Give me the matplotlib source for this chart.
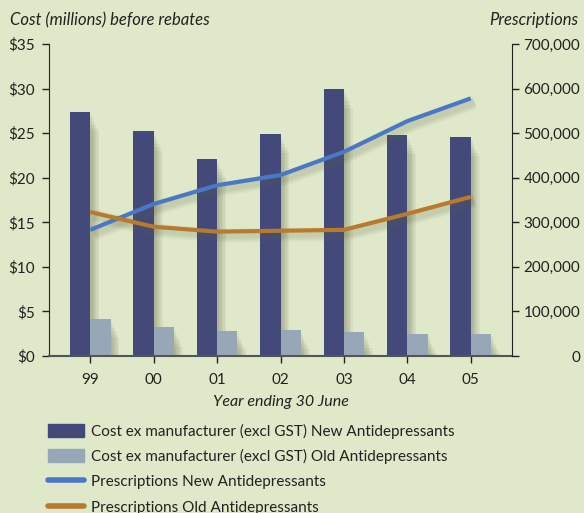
import matplotlib.pyplot as plt
import matplotlib.patches as mpatches
from matplotlib.lines import Line2D
from matplotlib.ticker import FuncFormatter
import numpy as np

plt.rcParams['font.family'] = ['Lato', 'DejaVu Sans']

# datos
years = ['99', '00', '01', '02', '03', '04', '05']
cost_new = [27.4, 25.2, 22.1, 24.9, 30.0, 24.8, 24.6]
cost_old = [4.2, 3.2, 2.8, 2.9, 2.7, 2.5, 2.5]
presc_new = [283000, 341000, 383000, 406000, 458000, 527000, 578000]
presc_old = [323000, 290000, 279000, 281000, 283000, 319000, 357000]

bg = '#dfe8c9'
c_new = '#434a7a'
c_old = '#97a7b8'
c_line_new = '#4a78c4'
c_line_old = '#b87a2c'

fig = plt.figure(figsize=(5.84, 5.13), dpi=100, facecolor=bg)
ax = fig.add_axes([49/584, 1-356/513, (512-49)/584, (356-44)/513])
ax.set_facecolor('none')

x = np.arange(len(years))
w = 0.32

# sombra difusa de las barras
for k in range(6):
    off = 0.03 + 0.012*k
    for xx, h in [(x - w/2, cost_new), (x + w/2, cost_old)]:
        ax.bar(xx + off, np.array(h) - 0.25*k, width=w + 0.02*k, bottom=-0.4 - 0.1*k,
               color='#5a6040', alpha=0.07, linewidth=0, zorder=1)

ax.bar(x - w/2, cost_new, width=w, color=c_new, zorder=2)
ax.bar(x + w/2, cost_old, width=w, color=c_old, zorder=2)

ax.set_xlim(-0.65, 6.65)
ax.set_ylim(0, 35)
ax.set_yticks(range(0, 36, 5))
ax.yaxis.set_major_formatter(FuncFormatter(lambda v, p: '$%d' % v))
ax.set_xticks(x)
ax.set_xticklabels(years)

for s in ['top', 'right']:
    ax.spines[s].set_visible(False)
ax.spines['left'].set_color('#222222')
ax.spines['bottom'].set_color('#555555')
ax.spines['bottom'].set_linewidth(1.5)
ax.tick_params(axis='both', colors='#222222', labelsize=11, length=5, width=1)
ax.tick_params(axis='y', pad=5)
ax.tick_params(axis='x', pad=7)

ax2 = ax.twinx()
ax2.set_ylim(0, 700000)
ax2.set_yticks(range(0, 700001, 100000))
ax2.yaxis.set_major_formatter(FuncFormatter(lambda v, p: '{:,}'.format(int(v))))
for s in ['top', 'left', 'bottom']:
    ax2.spines[s].set_visible(False)
ax2.spines['right'].set_color('#222222')
ax2.tick_params(axis='y', colors='#222222', labelsize=11, length=5, width=1, pad=44)
for lbl in ax2.get_yticklabels():
    lbl.set_horizontalalignment('right')

# sombras de las lineas
for k in range(4):
    ax2.plot(x + 0.06, np.array(presc_new) - 9000, color='#5a6040', lw=4 + 2*k,
             alpha=0.05, solid_capstyle='butt', zorder=1)
    ax2.plot(x + 0.06, np.array(presc_old) - 9000, color='#5a6040', lw=4 + 2*k,
             alpha=0.05, solid_capstyle='butt', zorder=1)
ax2.plot(x, presc_new, color=c_line_new, lw=3, solid_capstyle='butt', zorder=3)
ax2.plot(x, presc_old, color=c_line_old, lw=3, solid_capstyle='butt', zorder=3)

fig.text(10/584, 1-20/513, 'Cost (millions) before rebates', fontsize=12,
         style='italic', color='#222222', va='center', ha='left')
fig.text(578/584, 1-20/513, 'Prescriptions', fontsize=12, style='italic',
         color='#222222', va='center', ha='right')
fig.text(281/584, 1-402/513, 'Year ending 30 June', fontsize=11.5, style='italic',
         color='#222222', va='center', ha='center')

handles = [mpatches.Patch(color=c_new),
           mpatches.Patch(color=c_old),
           Line2D([], [], color=c_line_new, lw=4, solid_capstyle='round'),
           Line2D([], [], color=c_line_old, lw=4, solid_capstyle='round')]
labels = ['Cost ex manufacturer (excl GST) New Antidepressants',
          'Cost ex manufacturer (excl GST) Old Antidepressants',
          'Prescriptions New Antidepressants',
          'Prescriptions Old Antidepressants']
leg = fig.legend(handles, labels, loc='upper left', bbox_to_anchor=(40/584, 1-416/513),
                 frameon=False, fontsize=11, handlelength=2.4, handleheight=0.95,
                 labelspacing=0.68, handletextpad=0.45, borderpad=0)
for t in leg.get_texts():
    t.set_color('#222222')

fig.savefig('out.png', dpi=100, facecolor=bg)
